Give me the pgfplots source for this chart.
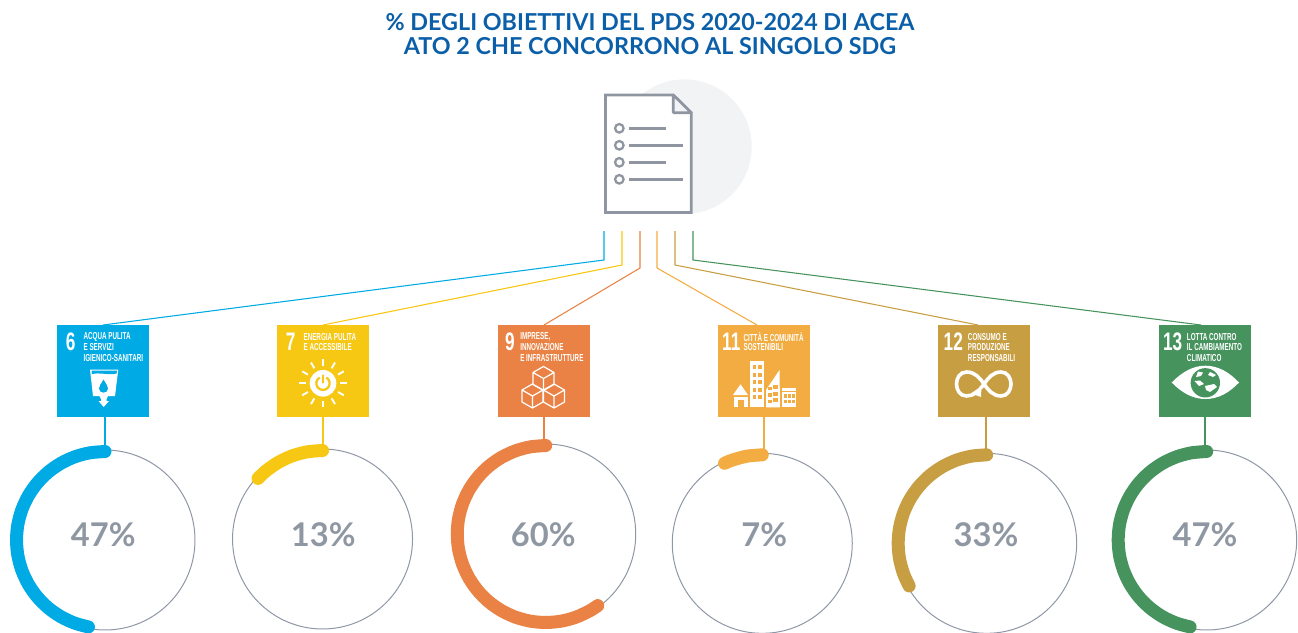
\documentclass[border=0pt]{standalone}
\usepackage{pgfplots}
\pgfplotsset{compat=1.18}
\usepgfplotslibrary{polar}
\usetikzlibrary{calc}
\usepackage{fontspec}
\setmainfont{Lato}
\newfontfamily\sdgfont{Liberation Sans}[BoldFont={Liberation Sans Bold}]

\definecolor{titleblue}{HTML}{0B5FA8}
\definecolor{ringgrey}{HTML}{8F97A6}
\definecolor{pctgrey}{HTML}{8F97A2}
\definecolor{docgrey}{HTML}{8F96A1}
\definecolor{discgrey}{HTML}{F2F3F5}
\definecolor{sdgsix}{HTML}{00AAE4}
\definecolor{sdgseven}{HTML}{F6C713}
\definecolor{sdgnine}{HTML}{E98244}
\definecolor{sdgeleven}{HTML}{F3AC41}
\definecolor{sdgtwelve}{HTML}{C89E42}
\definecolor{sdgthirteen}{HTML}{46935E}

% 1 px of the reference = 0.75pt, axis coordinates are reference pixels
\newcommand{\sdgbox}[2]{\fill[#2] (axis cs:#1,325) rectangle (axis cs:#1+92,417);}
\newcommand{\sdgnum}[3]{\node[white,anchor=center,inner sep=0pt] at (axis cs:#1,#2)
  {\sdgfont\fontsize{19}{19}\selectfont\bfseries\scalebox{0.68}[1]{#3}};}
\newcommand{\sdgtxt}[3]{\node[white,anchor=west,inner sep=0pt] at (axis cs:#1,#2)
  {\sdgfont\fontsize{7.6}{7.6}\selectfont\bfseries\scalebox{0.62}[1]{#3}};}
\newcommand{\pct}[3]{\node[pctgrey,inner sep=0pt] at (axis cs:#1,#2)
  {\fontsize{24.5}{24.5}\selectfont\bfseries #3};}
\newcommand{\cube}[2]{\draw[white,line width=0.9pt,line join=round]
  (axis cs:#1,#2-12) -- (axis cs:#1+10.5,#2-6) -- (axis cs:#1+10.5,#2+6) -- (axis cs:#1,#2+12)
  -- (axis cs:#1-10.5,#2+6) -- (axis cs:#1-10.5,#2-6) -- cycle
  (axis cs:#1-10.5,#2-6) -- (axis cs:#1,#2) -- (axis cs:#1+10.5,#2-6)
  (axis cs:#1,#2) -- (axis cs:#1,#2+12);}

\pgfplotsset{
  ring/.style={
    scale only axis, width=135pt, height=135pt,
    xmin=0, xmax=360, ymin=0, ymax=90,
    anchor=center, clip=false,
    ticks=none, grid=none, hide y axis,
    axis line style={ringgrey, line width=0.75pt},
  },
  arcline/.style={line width=9.75pt, line cap=round, line join=round, no marks, smooth},
  link/.style={line width=0.8pt, no marks},
}

\begin{document}
\begin{tikzpicture}
\useasboundingbox (0,0) rectangle (973.5pt,474pt);
\begin{axis}[
    at={(0,0)}, anchor=south west,
    scale only axis, width=973.5pt, height=474pt,
    xmin=0, xmax=1298, ymin=0, ymax=632, y dir=reverse,
    hide axis, clip=false,
]
% title
\node[titleblue,align=center,inner sep=0pt,
      font={\fontsize{17.5}{18}\selectfont\bfseries}] at (axis cs:650,34)
  {\% DEGLI OBIETTIVI DEL PDS 2020-2024 DI ACEA\\
   ATO 2 CHE CONCORRONO AL SINGOLO SDG};

% document icon
\fill[discgrey] (axis cs:684.4,146.7) circle[radius=50.5pt];
\fill[white] (axis cs:605.5,95) -- (axis cs:673.3,95) -- (axis cs:691.3,112.7)
  -- (axis cs:691.3,212.5) -- (axis cs:605.5,212.5) -- cycle;
\draw[docgrey,line width=2pt,miter limit=3] (axis cs:605.5,95) -- (axis cs:673.3,95)
  -- (axis cs:691.3,112.7) -- (axis cs:691.3,212.5) -- (axis cs:605.5,212.5) -- cycle;
\fill[discgrey] (axis cs:673.3,95) -- (axis cs:673.3,112.7) -- (axis cs:691.3,112.7) -- cycle;
\draw[docgrey,line width=2pt,line join=round] (axis cs:673.3,95) -- (axis cs:691.3,112.7) -- (axis cs:673.3,112.7) -- cycle;
\foreach \yy/\xe in {128.3/666,145.3/683,162.3/666,179.3/683}{
  \edef\tmp{\noexpand\draw[docgrey,line width=1.7pt] (axis cs:619.3,\yy) circle[radius=3.2pt];
    \noexpand\draw[docgrey,line width=1.9pt] (axis cs:629,\yy) -- (axis cs:\xe,\yy);}
  \tmp
}

% connectors from the document to the SDG squares and on to the rings
\addplot[link,sdgsix] coordinates {(604,231) (604,260) (103,325)};
\addplot[link,sdgseven] coordinates {(622,231) (622,265) (323,325)};
\addplot[link,sdgnine] coordinates {(640,231) (640,268) (544,325)};
\addplot[link,sdgeleven] coordinates {(657,231) (657,268) (757,325)};
\addplot[link,sdgtwelve] coordinates {(675,231) (675,265) (978,325)};
\addplot[link,sdgthirteen] coordinates {(693,231) (693,260) (1201,325)};
\addplot[link,sdgsix] coordinates {(105,417) (105,448)};
\addplot[link,sdgseven] coordinates {(323,417) (323,447)};
\addplot[link,sdgnine] coordinates {(544,417) (544,442)};
\addplot[link,sdgeleven] coordinates {(764,417) (764,452)};
\addplot[link,sdgtwelve] coordinates {(986,417) (986,452)};
\addplot[link,sdgthirteen] coordinates {(1205,417) (1205,448)};

% SDG squares
\sdgbox{57}{sdgsix}
\sdgbox{277}{sdgseven}
\sdgbox{498}{sdgnine}
\sdgbox{718}{sdgeleven}
\sdgbox{938}{sdgtwelve}
\sdgbox{1159}{sdgthirteen}

\sdgnum{70.7}{341.5}{6}
\sdgtxt{83.3}{336.7}{ACQUA PULITA}
\sdgtxt{83.3}{347.5}{E SERVIZI}
\sdgtxt{83.3}{358.5}{IGIENICO-SANITARI}
\sdgnum{290.7}{341.5}{7}
\sdgtxt{303.3}{336.7}{ENERGIA PULITA}
\sdgtxt{303.3}{347.5}{E ACCESSIBILE}
\sdgnum{510}{341.5}{9}
\sdgtxt{520}{336.7}{IMPRESE,}
\sdgtxt{520}{347.5}{INNOVAZIONE}
\sdgtxt{520}{358.5}{E INFRASTRUTTURE}
\sdgnum{731.3}{341.5}{11}
\sdgtxt{743.3}{336.7}{CITTÀ E COMUNITÀ}
\sdgtxt{743.3}{347.5}{SOSTENIBILI}
\sdgnum{953.3}{341.5}{12}
\sdgtxt{967.7}{336.7}{CONSUMO E}
\sdgtxt{967.7}{347.5}{PRODUZIONE}
\sdgtxt{967.7}{358.5}{RESPONSABILI}
\sdgnum{1172.7}{341.5}{13}
\sdgtxt{1186.7}{336.7}{LOTTA CONTRO}
\sdgtxt{1186.7}{347.5}{IL CAMBIAMENTO}
\sdgtxt{1186.7}{358.5}{CLIMATICO}

% icon SDG 6
\fill[white] (axis cs:90,369.5) -- (axis cs:118.3,369.5) -- (axis cs:115,396) -- (axis cs:108,396)
  -- (axis cs:106.5,399) -- (axis cs:106.5,401) -- (axis cs:109,401) -- (axis cs:103.7,407)
  -- (axis cs:98.5,401) -- (axis cs:101,401) -- (axis cs:101,399) -- (axis cs:99.5,396)
  -- (axis cs:93,396) -- cycle;
\fill[sdgsix] (axis cs:91.5,370.7) -- (axis cs:117,370.7) -- (axis cs:116.6,373.5)
  .. controls (axis cs:110,375.5) and (axis cs:98,372) .. (axis cs:92,374.2) -- cycle;
\fill[sdgsix] (axis cs:103.5,379.5) .. controls (axis cs:101,384) and (axis cs:99,386) .. (axis cs:99,388.5)
  .. controls (axis cs:99,394) and (axis cs:108,394) .. (axis cs:108,388.5)
  .. controls (axis cs:108,386) and (axis cs:106,384) .. (axis cs:103.5,379.5) -- cycle;

% icon SDG 7
\fill[white] (axis cs:323,383.3) circle[radius=10pt];
\draw[sdgseven,line width=1.7pt] (axis cs:326.3,377.5) arc[start angle=60,end angle=-240,radius=5pt];
\draw[sdgseven,line width=1.7pt,line cap=round] (axis cs:323,375.5) -- (axis cs:323,382.5);
\foreach \aa in {0,30,...,330}{
  \edef\tmp{\noexpand\draw[white,line width=1.4pt] ($(axis cs:323,383.3)+(\aa:13pt)$) -- ($(axis cs:323,383.3)+(\aa:18pt)$);}
  \tmp
}

% icon SDG 9
\cube{543.5}{378.5}
\cube{532.5}{396}
\cube{554}{396}

% icon SDG 11
\fill[white] (axis cs:733,395) -- (axis cs:740.5,384.3) -- (axis cs:748,395) -- cycle;
\fill[white] (axis cs:734,396.5) rectangle (axis cs:748,407.3);
\fill[sdgeleven] (axis cs:738,399.5) rectangle (axis cs:744,407.3);
\fill[white] (axis cs:750,361) rectangle (axis cs:764,407.3);
\foreach \yy in {365,372.5,380,387.5,395}{
  \edef\tmp{\noexpand\fill[sdgeleven] (axis cs:752.5,\yy) rectangle (axis cs:755.8,\yy+4);
    \noexpand\fill[sdgeleven] (axis cs:758.2,\yy) rectangle (axis cs:761.5,\yy+4);}
  \tmp
}
\fill[white] (axis cs:766,390) -- (axis cs:779.5,370) -- (axis cs:780,407.3) -- (axis cs:766,407.3) -- cycle;
\foreach \yy in {385,391.5,398}{
  \edef\tmp{\noexpand\fill[sdgeleven] (axis cs:773.2,\yy) rectangle (axis cs:777.5,\yy+4);
    \noexpand\fill[sdgeleven] (axis cs:768,\yy+1.5) rectangle (axis cs:771.5,\yy+5);}
  \tmp
}
\fill[white] (axis cs:781.7,388) rectangle (axis cs:796,407.3);
\fill[sdgeleven] (axis cs:781.7,391) rectangle (axis cs:796,392);
\foreach \xx in {784,788,792}{
  \edef\tmp{\noexpand\fill[sdgeleven] (axis cs:\xx,394) rectangle (axis cs:\xx+2.8,397.5);
    \noexpand\fill[sdgeleven] (axis cs:\xx,399.5) rectangle (axis cs:\xx+2.8,403);}
  \tmp
}

% icon SDG 12
\draw[white,line width=2.7pt,line cap=round] (axis cs:976.5,392)
  .. controls (axis cs:973,395) and (axis cs:970,396) .. (axis cs:966.5,396)
  .. controls (axis cs:960,396) and (axis cs:956.5,390) .. (axis cs:956.5,384)
  .. controls (axis cs:956.5,378) and (axis cs:960,372) .. (axis cs:966.5,372)
  .. controls (axis cs:975,372) and (axis cs:980,378) .. (axis cs:984,384)
  .. controls (axis cs:988,390) and (axis cs:993,396) .. (axis cs:1001,396)
  .. controls (axis cs:1007.5,396) and (axis cs:1011,390) .. (axis cs:1011,384)
  .. controls (axis cs:1011,378) and (axis cs:1007.5,372) .. (axis cs:1001,372)
  .. controls (axis cs:993,372) and (axis cs:988,378) .. (axis cs:984,384)
  .. controls (axis cs:983,385.5) and (axis cs:982,387) .. (axis cs:980.5,388);
\fill[white] (axis cs:981.5,386) -- (axis cs:981,397) -- (axis cs:971,393.5) -- cycle;

% icon SDG 13
\fill[white] (axis cs:1171.7,382.5) .. controls (axis cs:1182,372) and (axis cs:1193,365.7) .. (axis cs:1205.3,365.7)
  .. controls (axis cs:1218,365.7) and (axis cs:1229,372) .. (axis cs:1239,382.5)
  .. controls (axis cs:1229,393) and (axis cs:1218,399) .. (axis cs:1205.3,399)
  .. controls (axis cs:1193,399) and (axis cs:1182,393) .. (axis cs:1171.7,382.5) -- cycle;
\fill[sdgthirteen] (axis cs:1205.3,382.8) circle[radius=11pt];
\fill[white] (axis cs:1198,371.5) -- (axis cs:1203,372.5) -- (axis cs:1201,376) -- (axis cs:1196,377) -- cycle;
\fill[white] (axis cs:1210,372) -- (axis cs:1216,375) -- (axis cs:1213,377) -- (axis cs:1208,375) -- cycle;
\fill[white] (axis cs:1194.5,381) -- (axis cs:1200,380.5) -- (axis cs:1204,384) -- (axis cs:1199,386) -- cycle;
\fill[white] (axis cs:1205,386) -- (axis cs:1214,384) -- (axis cs:1217,387) -- (axis cs:1210,392) -- (axis cs:1206,390) -- cycle;

% percentages
\pct{103.3}{535}{47\%}
\pct{323.3}{535}{13\%}
\pct{543.3}{535}{60\%}
\pct{764.3}{535}{7\%}
\pct{986}{535}{33\%}
\pct{1205}{535}{47\%}
\end{axis}

% rings: angle in degrees from the x axis, arc runs counterclockwise from the top
\begin{polaraxis}[ring, at={(78.75pt,69pt)}]
\addplot[arcline,sdgsix] coordinates {(90,88.5) (100,88.5) (110,88.5) (120,88.5) (130,88.5) (140,88.5) (150,88.5) (160,88.5) (170,88.5) (180,88.5) (190,88.5) (200,88.5) (210,88.5) (220,88.5) (230,88.5) (240,88.5) (250,88.5) (259.2,88.5)};
\end{polaraxis}
\begin{polaraxis}[ring, at={(241.9pt,69.75pt)}]
\addplot[arcline,sdgseven] coordinates {(90,88.5) (100,88.5) (110,88.5) (120,88.5) (130,88.5) (136.8,88.5)};
\end{polaraxis}
\begin{polaraxis}[ring, at={(409.3pt,73.5pt)}]
\addplot[arcline,sdgnine] coordinates {(90,88.5) (100,88.5) (110,88.5) (120,88.5) (130,88.5) (140,88.5) (150,88.5) (160,88.5) (170,88.5) (180,88.5) (190,88.5) (200,88.5) (210,88.5) (220,88.5) (230,88.5) (240,88.5) (250,88.5) (260,88.5) (270,88.5) (280,88.5) (290,88.5) (300,88.5) (306,88.5)};
\end{polaraxis}
\begin{polaraxis}[ring, at={(571.7pt,66.5pt)}]
\addplot[arcline,sdgeleven] coordinates {(90,88.5) (100,88.5) (110,88.5) (115.2,88.5)};
\end{polaraxis}
\begin{polaraxis}[ring, at={(740pt,66.5pt)}]
\addplot[arcline,sdgtwelve] coordinates {(90,88.5) (100,88.5) (110,88.5) (120,88.5) (130,88.5) (140,88.5) (150,88.5) (160,88.5) (170,88.5) (180,88.5) (190,88.5) (200,88.5) (208.8,88.5)};
\end{polaraxis}
\begin{polaraxis}[ring, at={(905pt,69pt)}]
\addplot[arcline,sdgthirteen] coordinates {(90,88.5) (100,88.5) (110,88.5) (120,88.5) (130,88.5) (140,88.5) (150,88.5) (160,88.5) (170,88.5) (180,88.5) (190,88.5) (200,88.5) (210,88.5) (220,88.5) (230,88.5) (240,88.5) (250,88.5) (259.2,88.5)};
\end{polaraxis}
\end{tikzpicture}
\end{document}
